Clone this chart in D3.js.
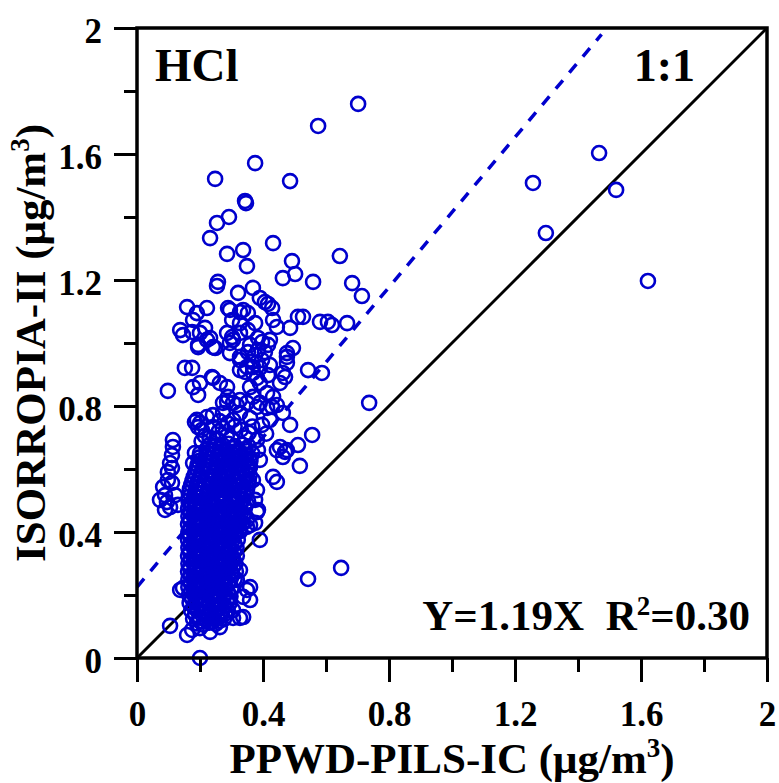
<!DOCTYPE html>
<html>
<head>
<meta charset="utf-8">
<script src="https://cdn.jsdelivr.net/npm/d3@7"></script>
<style>
  body { margin: 0; background: #fff; }
  svg { display: block; }
  text { font-family: "Liberation Serif", "Times New Roman", serif; font-weight: bold; fill: #000; }
</style>
</head>
<body>
<svg id="chart" width="779" height="783"></svg>
<script>
// --- data (µg/m3): x = PPWD-PILS-IC, y = ISORROPIA-II ---
const xTicks = [0, 0.4, 0.8, 1.2, 1.6, 2];
const yTicks = [0, 0.4, 0.8, 1.2, 1.6, 2];
const minorTicks = [0.2, 0.6, 1.0, 1.4, 1.8];

const fitSlope = 1.19;
const fitIntercept = 0.225;
const fitLabel = ['Y=1.19X  R', '2', '=0.30'];

// isolated high / right points
const outliers = [
  [1.467, 1.603], [1.257, 1.508], [1.521, 1.486], [1.298, 1.349], [1.622, 1.197],
  [0.737, 0.810], [0.648, 0.286], [0.543, 0.251]
];

// scattered upper group (y > 0.8)
const upperGroup = [
  [0.702, 1.759], [0.575, 1.689], [0.375, 1.571], [0.248, 1.521], [0.486, 1.514],
  [0.343, 1.451], [0.346, 1.444], [0.292, 1.400], [0.254, 1.381], [0.232, 1.333],
  [0.432, 1.317], [0.286, 1.283], [0.337, 1.295], [0.349, 1.244], [0.492, 1.260],
  [0.502, 1.219], [0.463, 1.206], [0.644, 1.276], [0.559, 1.194], [0.683, 1.190],
  [0.714, 1.149], [0.257, 1.194], [0.254, 1.181], [0.321, 1.159], [0.368, 1.175],
  [0.390, 1.143], [0.406, 1.130], [0.416, 1.124], [0.429, 1.111], [0.159, 1.114],
  [0.222, 1.111], [0.190, 1.095], [0.295, 1.105], [0.327, 1.098], [0.352, 1.095],
  [0.289, 1.111], [0.337, 1.105], [0.137, 1.041], [0.146, 1.025], [0.175, 1.035],
  [0.200, 1.032], [0.194, 0.994], [0.178, 1.073], [0.216, 1.048], [0.222, 1.010],
  [0.241, 0.987], [0.194, 0.987], [0.232, 1.016], [0.248, 0.984], [0.286, 1.032],
  [0.302, 1.073], [0.327, 1.063], [0.302, 1.019], [0.327, 1.032], [0.295, 1.000],
  [0.305, 1.010], [0.295, 0.968], [0.327, 0.946], [0.375, 1.063], [0.352, 1.041],
  [0.432, 1.073], [0.444, 1.051], [0.422, 1.010], [0.486, 1.048], [0.495, 0.984],
  [0.476, 0.956], [0.511, 1.083], [0.527, 1.083], [0.581, 1.067], [0.606, 1.067],
  [0.619, 1.057], [0.667, 1.063], [0.384, 0.978], [0.359, 0.994], [0.397, 1.003],
  [0.375, 0.962], [0.406, 0.971], [0.365, 0.940], [0.397, 0.946], [0.416, 0.994],
  [0.384, 1.016], [0.352, 0.971], [0.390, 0.921], [0.343, 0.908], [0.422, 0.930],
  [0.381, 0.889], [0.416, 0.898], [0.152, 0.921], [0.175, 0.921], [0.098, 0.848],
  [0.241, 0.889], [0.263, 0.873], [0.368, 0.924], [0.543, 0.914], [0.587, 0.905],
  [0.470, 0.892], [0.327, 0.956], [0.349, 0.924], [0.327, 0.914], [0.368, 0.905],
  [0.178, 0.860], [0.194, 0.835], [0.200, 0.873], [0.238, 0.892], [0.286, 0.860],
  [0.289, 0.829], [0.359, 0.860], [0.390, 0.873], [0.368, 0.829], [0.413, 0.841],
  [0.432, 0.829], [0.454, 0.873], [0.476, 0.968], [0.463, 0.905], [0.476, 0.937],
  [0.273, 0.810], [0.305, 0.810], [0.327, 0.819], [0.390, 0.810], [0.429, 0.797]
];

// middle band (0.55 < y < 0.82) and right-hand fringe
const middleGroup = [
  [0.286, 0.813], [0.317, 0.803], [0.349, 0.810], [0.381, 0.797], [0.413, 0.794],
  [0.444, 0.803], [0.463, 0.778], [0.327, 0.778], [0.305, 0.756], [0.359, 0.762],
  [0.190, 0.756], [0.206, 0.724], [0.194, 0.733], [0.222, 0.765], [0.241, 0.771],
  [0.273, 0.778], [0.184, 0.749], [0.200, 0.746], [0.241, 0.733], [0.397, 0.740],
  [0.422, 0.756], [0.486, 0.740], [0.454, 0.670], [0.476, 0.660], [0.463, 0.638],
  [0.381, 0.692], [0.384, 0.660], [0.390, 0.629], [0.359, 0.606], [0.184, 0.651],
  [0.178, 0.619], [0.432, 0.575], [0.444, 0.559], [0.368, 0.565], [0.381, 0.533],
  [0.375, 0.502], [0.384, 0.470], [0.556, 0.708], [0.511, 0.676], [0.470, 0.654],
  [0.444, 0.660], [0.517, 0.610], [0.260, 0.720], [0.285, 0.705], [0.330, 0.725],
  [0.355, 0.715], [0.230, 0.700], [0.310, 0.735], [0.215, 0.705], [0.252, 0.697],
  [0.272, 0.730], [0.300, 0.698], [0.345, 0.700], [0.366, 0.735], [0.205, 0.688],
  [0.410, 0.712], [0.262, 0.752], [0.288, 0.745]
];

// narrow column left of the main cluster
const leftColumn = [
  [0.114, 0.692], [0.114, 0.670], [0.111, 0.644], [0.105, 0.619], [0.098, 0.590],
  [0.098, 0.565], [0.111, 0.603], [0.111, 0.556], [0.073, 0.502], [0.095, 0.495],
  [0.089, 0.470], [0.105, 0.479], [0.083, 0.543], [0.089, 0.517], [0.121, 0.517],
  [0.130, 0.486]
];

// dense main cluster
const core = [
  [0.232, 0.678], [0.250, 0.672], [0.272, 0.676], [0.290, 0.680], [0.310, 0.673], [0.335, 0.677], [0.355, 0.671],
  [0.200, 0.650], [0.222, 0.653], [0.240, 0.647], [0.262, 0.651], [0.283, 0.655], [0.300, 0.648], [0.322, 0.652], [0.345, 0.646], [0.366, 0.650],
  [0.196, 0.625], [0.215, 0.628], [0.238, 0.622], [0.258, 0.626], [0.277, 0.629], [0.298, 0.623], [0.318, 0.627], [0.340, 0.621], [0.360, 0.625],
  [0.190, 0.600], [0.210, 0.603], [0.232, 0.597], [0.250, 0.601], [0.270, 0.604], [0.292, 0.598], [0.312, 0.602], [0.333, 0.596], [0.354, 0.600],
  [0.180, 0.575], [0.200, 0.578], [0.222, 0.572], [0.243, 0.576], [0.262, 0.579], [0.282, 0.573], [0.302, 0.577], [0.325, 0.571], [0.345, 0.575], [0.358, 0.580],
  [0.172, 0.550], [0.190, 0.553], [0.212, 0.547], [0.232, 0.551], [0.253, 0.554], [0.272, 0.548], [0.293, 0.552], [0.313, 0.546], [0.335, 0.550], [0.354, 0.553],
  [0.166, 0.525], [0.185, 0.528], [0.205, 0.522], [0.225, 0.526], [0.245, 0.529], [0.265, 0.523], [0.285, 0.527], [0.305, 0.521], [0.326, 0.525], [0.348, 0.528],
  [0.163, 0.500], [0.178, 0.503], [0.198, 0.497], [0.218, 0.501], [0.238, 0.504], [0.258, 0.498], [0.278, 0.502], [0.298, 0.496], [0.318, 0.500], [0.338, 0.503], [0.353, 0.497],
  [0.162, 0.475], [0.183, 0.478], [0.203, 0.472], [0.223, 0.476], [0.243, 0.479], [0.263, 0.473], [0.283, 0.477], [0.303, 0.471], [0.323, 0.475], [0.343, 0.478],
  [0.163, 0.450], [0.178, 0.453], [0.197, 0.447], [0.217, 0.451], [0.237, 0.454], [0.257, 0.448], [0.277, 0.452], [0.297, 0.446], [0.318, 0.450], [0.338, 0.453],
  [0.162, 0.425], [0.182, 0.428], [0.202, 0.422], [0.222, 0.426], [0.242, 0.429], [0.262, 0.423], [0.282, 0.427], [0.302, 0.421], [0.322, 0.425], [0.336, 0.428],
  [0.163, 0.400], [0.178, 0.403], [0.198, 0.397], [0.218, 0.401], [0.238, 0.404], [0.258, 0.398], [0.278, 0.402], [0.298, 0.396], [0.315, 0.400], [0.328, 0.403],
  [0.162, 0.375], [0.182, 0.378], [0.202, 0.372], [0.222, 0.376], [0.242, 0.379], [0.262, 0.373], [0.282, 0.377], [0.302, 0.371], [0.320, 0.375],
  [0.163, 0.350], [0.178, 0.353], [0.198, 0.347], [0.218, 0.351], [0.238, 0.354], [0.258, 0.348], [0.278, 0.352], [0.298, 0.346], [0.316, 0.350],
  [0.162, 0.325], [0.182, 0.328], [0.202, 0.322], [0.222, 0.326], [0.242, 0.329], [0.262, 0.323], [0.282, 0.327], [0.302, 0.321], [0.317, 0.325],
  [0.163, 0.300], [0.178, 0.303], [0.198, 0.297], [0.218, 0.301], [0.238, 0.304], [0.258, 0.298], [0.278, 0.302], [0.296, 0.296], [0.313, 0.300],
  [0.162, 0.275], [0.182, 0.278], [0.202, 0.272], [0.222, 0.276], [0.242, 0.279], [0.262, 0.273], [0.282, 0.277], [0.300, 0.271], [0.314, 0.275],
  [0.163, 0.250], [0.178, 0.253], [0.198, 0.247], [0.218, 0.251], [0.238, 0.254], [0.258, 0.248], [0.278, 0.252], [0.296, 0.246], [0.310, 0.250],
  [0.163, 0.225], [0.182, 0.228], [0.202, 0.222], [0.222, 0.226], [0.242, 0.229], [0.262, 0.223], [0.282, 0.227], [0.300, 0.221],
  [0.165, 0.200], [0.180, 0.203], [0.200, 0.197], [0.220, 0.201], [0.240, 0.204], [0.260, 0.198], [0.280, 0.202], [0.297, 0.196],
  [0.167, 0.175], [0.186, 0.178], [0.206, 0.172], [0.226, 0.176], [0.246, 0.179], [0.266, 0.173], [0.286, 0.177],
  [0.172, 0.150], [0.190, 0.153], [0.210, 0.147], [0.230, 0.151], [0.250, 0.154], [0.270, 0.148], [0.288, 0.152],
  [0.178, 0.125], [0.198, 0.128], [0.218, 0.122], [0.238, 0.126], [0.258, 0.129], [0.276, 0.123],
  [0.190, 0.110], [0.210, 0.106], [0.230, 0.112], [0.250, 0.108]
];

// overlapping points between the rows of the main cluster
const coreFill = [
  [0.222, 0.665], [0.242, 0.660], [0.262, 0.664], [0.282, 0.661], [0.302, 0.666], [0.322, 0.660], [0.345, 0.663],
  [0.198, 0.637], [0.218, 0.640], [0.238, 0.635], [0.258, 0.639], [0.278, 0.636], [0.298, 0.641], [0.318, 0.635], [0.340, 0.638], [0.360, 0.634],
  [0.192, 0.612], [0.212, 0.615], [0.232, 0.610], [0.252, 0.614], [0.272, 0.611], [0.292, 0.616], [0.312, 0.610], [0.332, 0.613], [0.352, 0.609],
  [0.185, 0.587], [0.205, 0.590], [0.225, 0.585], [0.245, 0.589], [0.265, 0.586], [0.285, 0.591], [0.305, 0.585], [0.325, 0.588], [0.348, 0.584],
  [0.176, 0.562], [0.195, 0.565], [0.215, 0.560], [0.235, 0.564], [0.255, 0.561], [0.275, 0.566], [0.295, 0.560], [0.315, 0.563], [0.338, 0.559], [0.355, 0.565],
  [0.168, 0.537], [0.188, 0.540], [0.208, 0.535], [0.228, 0.539], [0.248, 0.536], [0.268, 0.541], [0.288, 0.535], [0.308, 0.538], [0.330, 0.534], [0.350, 0.540],
  [0.165, 0.512], [0.182, 0.515], [0.200, 0.510], [0.220, 0.514], [0.240, 0.511], [0.260, 0.516], [0.280, 0.510], [0.300, 0.513], [0.322, 0.509], [0.342, 0.515],
  [0.168, 0.487], [0.188, 0.490], [0.208, 0.485], [0.228, 0.489], [0.248, 0.486], [0.268, 0.491], [0.288, 0.485], [0.308, 0.488], [0.328, 0.484], [0.348, 0.490],
  [0.170, 0.462], [0.190, 0.465], [0.210, 0.460], [0.230, 0.464], [0.250, 0.461], [0.270, 0.466], [0.290, 0.460], [0.310, 0.463], [0.330, 0.459],
  [0.168, 0.437], [0.188, 0.440], [0.208, 0.435], [0.228, 0.439], [0.248, 0.436], [0.268, 0.441], [0.288, 0.435], [0.308, 0.438], [0.328, 0.434],
  [0.170, 0.412], [0.190, 0.415], [0.210, 0.410], [0.230, 0.414], [0.250, 0.411], [0.270, 0.416], [0.290, 0.410], [0.310, 0.413], [0.325, 0.409],
  [0.168, 0.387], [0.188, 0.390], [0.208, 0.385], [0.228, 0.389], [0.248, 0.386], [0.268, 0.391], [0.288, 0.385], [0.308, 0.388],
  [0.170, 0.362], [0.190, 0.365], [0.210, 0.360], [0.230, 0.364], [0.250, 0.361], [0.270, 0.366], [0.290, 0.360], [0.310, 0.363],
  [0.168, 0.337], [0.188, 0.340], [0.208, 0.335], [0.228, 0.339], [0.248, 0.336], [0.268, 0.341], [0.288, 0.335], [0.308, 0.338],
  [0.170, 0.312], [0.190, 0.315], [0.210, 0.310], [0.230, 0.314], [0.250, 0.311], [0.270, 0.316], [0.290, 0.310], [0.306, 0.313],
  [0.168, 0.287], [0.188, 0.290], [0.208, 0.285], [0.228, 0.289], [0.248, 0.286], [0.268, 0.291], [0.288, 0.285], [0.305, 0.288],
  [0.170, 0.262], [0.190, 0.265], [0.210, 0.260], [0.230, 0.264], [0.250, 0.261], [0.270, 0.266], [0.288, 0.260], [0.303, 0.263],
  [0.170, 0.237], [0.190, 0.240], [0.210, 0.235], [0.230, 0.239], [0.250, 0.236], [0.270, 0.241], [0.290, 0.235],
  [0.172, 0.212], [0.190, 0.215], [0.210, 0.210], [0.230, 0.214], [0.250, 0.211], [0.270, 0.216], [0.288, 0.210],
  [0.175, 0.187], [0.195, 0.190], [0.215, 0.185], [0.235, 0.189], [0.255, 0.186], [0.275, 0.191], [0.290, 0.185],
  [0.180, 0.162], [0.200, 0.165], [0.220, 0.160], [0.240, 0.164], [0.260, 0.161], [0.278, 0.166],
  [0.185, 0.137], [0.205, 0.140], [0.225, 0.135], [0.245, 0.139], [0.265, 0.136], [0.280, 0.141],
  [0.200, 0.117], [0.220, 0.120], [0.240, 0.115], [0.262, 0.118]
];

// fringe just outside the cluster, near the bottom
const lowerFringe = [
  [0.105, 0.102], [0.200, 0.000], [0.263, 0.098], [0.305, 0.127], [0.327, 0.127],
  [0.337, 0.130], [0.349, 0.216], [0.359, 0.225], [0.337, 0.194], [0.359, 0.184],
  [0.159, 0.073], [0.175, 0.089], [0.146, 0.222], [0.137, 0.216], [0.390, 0.375],
  [0.349, 0.416], [0.359, 0.422], [0.381, 0.463], [0.375, 0.429], [0.349, 0.438],
  [0.327, 0.279], [0.317, 0.248], [0.295, 0.175], [0.305, 0.152], [0.200, 0.095],
  [0.232, 0.083]
];

const points = [].concat(core, coreFill, leftColumn, middleGroup, upperGroup, lowerFringe, outliers);

// --- layout ---
const margin = {left: 137, top: 28};
const size = 630;
const blue = '#0000cd';

const svg = d3.select('#chart');
const g = svg.append('g').attr('transform', `translate(${margin.left},${margin.top})`);

const x = d3.scaleLinear().domain([0, 2]).range([0, size]);
const y = d3.scaleLinear().domain([0, 2]).range([size, 0]);

g.append('clipPath').attr('id', 'plot-clip')
  .append('rect').attr('width', size).attr('height', size);

const lines = g.append('g').attr('clip-path', 'url(#plot-clip)');

// 1:1 line
lines.append('line')
  .attr('x1', x(0)).attr('y1', y(0))
  .attr('x2', x(2)).attr('y2', y(2))
  .attr('stroke', '#000').attr('stroke-width', 3);

// regression line, stops just under the top frame
const xEnd = (1.98 - fitIntercept) / fitSlope;
lines.append('line')
  .attr('x1', x(0)).attr('y1', y(fitIntercept))
  .attr('x2', x(xEnd)).attr('y2', y(fitIntercept + fitSlope * xEnd))
  .attr('stroke', blue).attr('stroke-width', 3.5)
  .attr('stroke-dasharray', '11 10');

// points
g.append('g').selectAll('circle')
  .data(points)
  .join('circle')
  .attr('cx', d => x(d[0]))
  .attr('cy', d => y(d[1]))
  .attr('r', 7)
  .attr('fill', 'none')
  .attr('stroke', blue)
  .attr('stroke-width', 2.6);

// axes
const yAxis = g.append('g')
  .call(d3.axisLeft(y).tickValues(yTicks).tickSize(23).tickPadding(12).tickFormat(d3.format('')));
const yMinor = g.append('g')
  .call(d3.axisLeft(y).tickValues(minorTicks).tickSize(13).tickFormat(''));
const xAxis = g.append('g').attr('transform', `translate(0,${size})`)
  .call(d3.axisBottom(x).tickValues(xTicks).tickSize(24).tickPadding(19).tickFormat(d3.format('')));
const xMinor = g.append('g').attr('transform', `translate(0,${size})`)
  .call(d3.axisBottom(x).tickValues(minorTicks).tickSize(14).tickFormat(''));

[yAxis, yMinor, xAxis, xMinor].forEach(a => {
  a.select('.domain').remove();
  a.selectAll('.tick line').attr('stroke', '#000').attr('stroke-width', 3);
  a.selectAll('.tick text')
    .attr('font-family', '"Liberation Serif", "Times New Roman", serif')
    .attr('font-weight', 'bold')
    .attr('font-size', 35)
    .attr('fill', '#000');
});
yAxis.selectAll('.tick text').attr('dy', '0.42em');

// frame
g.append('rect')
  .attr('width', size).attr('height', size)
  .attr('fill', 'none').attr('stroke', '#000').attr('stroke-width', 3.5);

// labels
g.append('text').attr('x', 18).attr('y', 53)
  .attr('font-size', 47).text('HCl');
g.append('text').attr('x', 558).attr('y', 53)
  .attr('font-size', 46).attr('text-anchor', 'end').text('1:1');

const eq = g.append('text').attr('x', 613).attr('y', 602)
  .attr('font-size', 43).attr('text-anchor', 'end').style('white-space', 'pre');
eq.append('tspan').text(fitLabel[0]);
eq.append('tspan').attr('font-size', 27).attr('dy', -15).text(fitLabel[1]);
eq.append('tspan').attr('dy', 15).text(fitLabel[2]);

// axis titles
const xt = svg.append('text')
  .attr('x', margin.left + size / 2).attr('y', 773)
  .attr('font-size', 43).attr('text-anchor', 'middle');
xt.append('tspan').text('PPWD-PILS-IC (μg/m');
xt.append('tspan').attr('font-size', 27).attr('dy', -16).text('3');
xt.append('tspan').attr('dy', 16).text(')');

const yt = svg.append('text')
  .attr('transform', `translate(45,${margin.top + size / 2}) rotate(-90)`)
  .attr('font-size', 43).attr('text-anchor', 'middle');
yt.append('tspan').text('ISORROPIA-II (μg/m');
yt.append('tspan').attr('font-size', 27).attr('dy', -16).text('3');
yt.append('tspan').attr('dy', 16).text(')');
</script>
</body>
</html>
